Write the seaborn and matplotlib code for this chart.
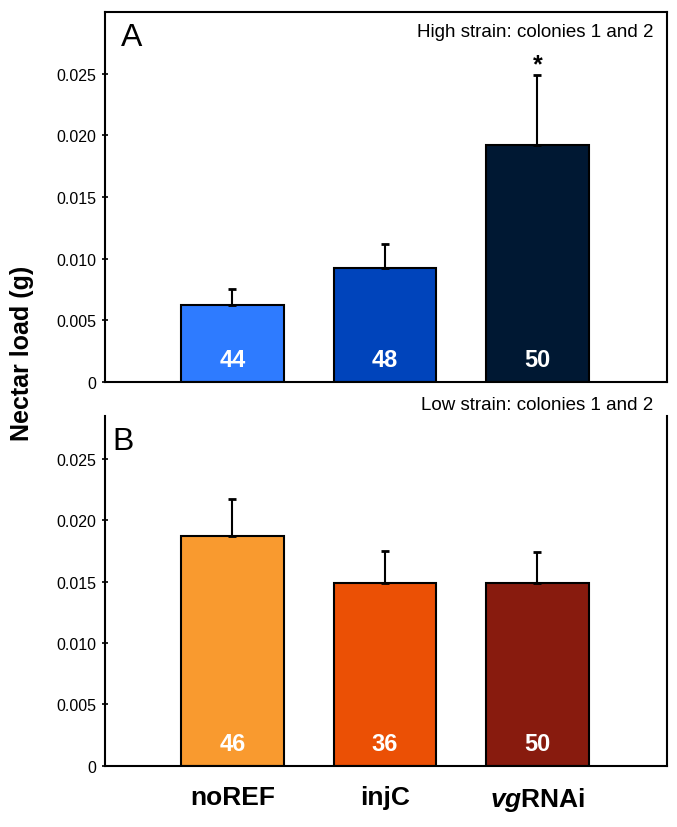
import pandas as pd
import matplotlib.pyplot as plt
import seaborn as sns

# values
treatments = ["noREF", "injC", "vgRNAi"]
high_mean = [0.0062, 0.0092, 0.0192]
high_se = [0.0013, 0.0020, 0.0057]
high_n = [44, 48, 50]
low_mean = [0.0187, 0.0149, 0.0149]
low_se = [0.0030, 0.0026, 0.0025]
low_n = [46, 36, 50]
high_colors = ["#2E7BFF", "#0044BB", "#001833"]
low_colors = ["#F99A2F", "#EB5005", "#881B0E"]
tick_labels = ["noREF", "injC", r"$\mathbfit{vg}$RNAi"]

sns.set_style("ticks")
plt.rcParams['font.family'] = ['Liberation Sans', 'DejaVu Sans']
plt.rcParams['mathtext.fontset'] = 'custom'
plt.rcParams['mathtext.bfit'] = 'Liberation Sans:italic:bold'
plt.rcParams['text.color'] = 'black'
plt.rcParams['axes.edgecolor'] = 'black'
plt.rcParams['xtick.color'] = 'black'
plt.rcParams['ytick.color'] = 'black'
plt.rcParams['axes.labelcolor'] = 'black'

fig = plt.figure(figsize=(6.77, 8.28), dpi=100)
ax_top = fig.add_axes([0.1551, 0.5378, 0.830, 0.4461])
ax_bot = fig.add_axes([0.1551, 0.0740, 0.830, 0.4227])


def draw_panel(ax, means, ses, ns, colors, ytop):
    df = pd.DataFrame({"treatment": treatments, "load": means})
    sns.barplot(data=df, x="treatment", y="load", hue="treatment",
                palette=dict(zip(treatments, colors)), legend=False,
                saturation=1, width=0.67, edgecolor="black", linewidth=1.5,
                ax=ax)
    ax.errorbar(range(len(means)), means, yerr=[[0] * len(ses), ses],
                fmt="none", ecolor="black", elinewidth=1.5,
                capsize=3.2, capthick=2)
    for i, n in enumerate(ns):
        ax.text(i, 0.0018, str(n), color="white", fontsize=17,
                fontweight="bold", ha="center", va="center",
                family=["Liberation Sans Narrow", "Liberation Sans"])
    ax.set_xlim(-0.836, 2.849)
    ax.set_ylim(0, ytop)
    ax.set_yticks([0, 0.005, 0.010, 0.015, 0.020, 0.025])
    ax.set_yticklabels(["0", "0.005", "0.010", "0.015", "0.020", "0.025"])
    ax.tick_params(axis="y", direction="inout", length=5, width=1.2,
                   labelsize=11.5, pad=4)
    ax.set_xlabel("")
    ax.set_ylabel("")
    for sp in ax.spines.values():
        sp.set_linewidth(1.5)


draw_panel(ax_top, high_mean, high_se, high_n, high_colors, 0.030)
ax_top.set_xticks([])
ax_top.text(2, 0.0258, "*", fontsize=18, fontweight="bold",
            ha="center", va="center")
ax_top.text(0.977, 0.947, "High strain: colonies 1 and 2", fontsize=13.5,
            ha="right", va="center", transform=ax_top.transAxes)
ax_top.text(0.0285, 0.933, "A", fontsize=23, ha="left", va="center",
            transform=ax_top.transAxes)

draw_panel(ax_bot, low_mean, low_se, low_n, low_colors, 0.0285)
ax_bot.spines["top"].set_visible(False)
ax_bot.set_xticks(range(3))
ax_bot.set_xticklabels(tick_labels, fontsize=19, fontweight="bold")
ax_bot.tick_params(axis="x", length=0, pad=14)
ax_bot.text(0.975, 1.033, "Low strain: colonies 1 and 2", fontsize=13.5,
            ha="right", va="center", transform=ax_bot.transAxes, clip_on=False)
ax_bot.text(0.014, 0.928, "B", fontsize=23, ha="left", va="center",
            transform=ax_bot.transAxes)

fig.text(0.0325, 0.5737, "Nectar load (g)", rotation=90, fontsize=18,
         fontweight="bold", ha="center", va="center")

fig.savefig("out.png", dpi=100)
